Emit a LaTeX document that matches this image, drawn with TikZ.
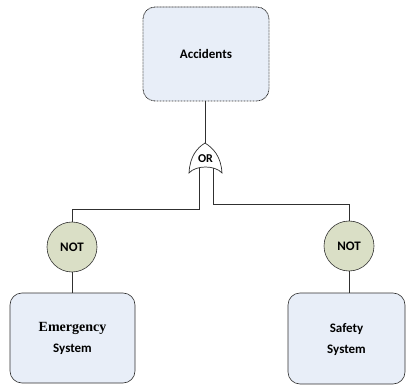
\documentclass[tikz,border=0pt]{standalone}
\usepackage{fontspec}
\setsansfont{Carlito}
\newfontfamily\emfont{Liberation Serif}
\usepackage{xcolor}
\usepackage{tikz}
\usetikzlibrary{positioning}

\definecolor{evblue}{HTML}{E8EEF8}
\definecolor{notgreen}{HTML}{DADFC6}
\definecolor{linegray}{HTML}{303030}

\tikzset{
  event/.style={draw=linegray, fill=evblue, rounded corners=12pt, align=center,
    font=\sffamily\bfseries\fontsize{13}{21}\selectfont, line width=0.6pt},
  notgate/.style={circle, draw=linegray, fill=notgreen, minimum size=50pt, inner sep=0pt,
    font=\sffamily\bfseries\fontsize{13}{14}\selectfont, line width=0.6pt},
  link/.style={draw=linegray, line width=0.7pt}
}

\begin{document}
\begin{tikzpicture}[x=1pt,y=-1pt]
\useasboundingbox (0,0) rectangle (407,390);
% top event
\node[event, line width=0.8pt, dash pattern=on 0.9pt off 0.6pt, minimum width=126pt, minimum height=94pt] (accidents) at (206,54) {\raisebox{-3pt}{Accidents}};
% basic events
\node[event, minimum width=125pt, minimum height=90pt] (emergency) at (72.5,338)
  {\raisebox{-9pt}{\begin{tabular}{@{}c@{}}{\emfont\bfseries\fontsize{14}{21}\selectfont Emergency}\\System\end{tabular}}};
\node[event, minimum width=117pt, minimum height=91pt] (safety) at (346.5,338.5)
  {\raisebox{-5pt}{\begin{tabular}{@{}c@{}}Safety\\System\end{tabular}}};
% NOT gates
\node[notgate] (notL) at (72,247) {NOT};
\node[notgate] (notR) at (349,246) {NOT};
% OR gate
\draw[link, fill=white] (189,173) .. controls (190,156) and (197,148) .. (205,143)
  .. controls (213,148) and (221,156) .. (222,173)
  .. controls (215,165) and (196,165) .. (189,173) -- cycle;
\node[font=\sffamily\bfseries\fontsize{12}{14}\selectfont, inner sep=0pt] (or) at (205.5,159) {OR};
\coordinate (ortop) at (205,143);
\coordinate (orin1) at (199,168);
\coordinate (orin2) at (213,168);
\coordinate (bendL) at (199,209);
\coordinate (bendR) at (213,204);
% connectors
\draw[link] (accidents.south -| ortop) -- (ortop);
\draw[link] (orin1) -- (bendL) -| (notL.north);
\draw[link] (orin2) -- (bendR) -| (notR.north);
\draw[link] (notL.south) -- (emergency.north -| notL.south);
\draw[link] (notR.south) -- (safety.north -| notR.south);
\end{tikzpicture}
\end{document}
